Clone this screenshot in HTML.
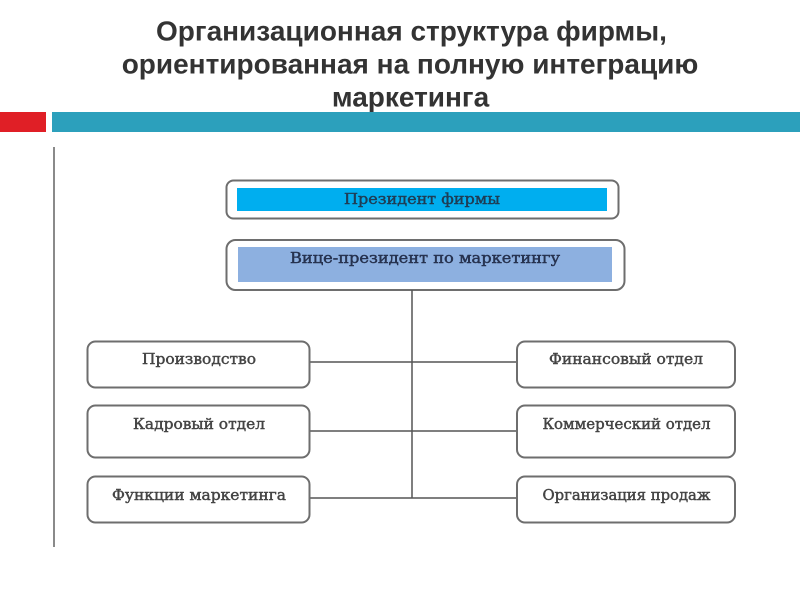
<!DOCTYPE html>
<html lang="ru">
<head>
<meta charset="utf-8">
<style>
html,body{margin:0;padding:0;background:#fff;}
svg{display:block;}
.t{font-family:"Liberation Sans",sans-serif;font-weight:bold;font-size:28px;fill:#333;text-anchor:middle;}
.s{font-family:"DejaVu Serif","Liberation Serif",serif;font-size:14.5px;fill:#444;font-weight:normal;stroke:#444;stroke-width:.45px;}
.b{fill:#fff;stroke:#6e6e6e;stroke-width:2;}
.l{stroke:#555;stroke-width:1.5;fill:none;}
</style>
</head>
<body>
<svg width="800" height="600" viewBox="0 0 800 600" xmlns="http://www.w3.org/2000/svg">
<text class="t" x="411.500" y="40.500">Организационная структура фирмы,</text>
<text class="t" x="410" y="73.500">ориентированная на полную интеграцию</text>
<text class="t" x="410.500" y="106.500">маркетинга</text>
<rect x="0" y="112" width="46" height="20" fill="#e01f26"/>
<rect x="52" y="112" width="748" height="20" fill="#2ca0bc"/>
<rect x="53" y="147" width="2" height="400" fill="#8a8a8a"/>

<rect class="b" x="226.500" y="180.500" width="392" height="38" rx="7"/>
<rect x="237" y="188" width="370" height="23" fill="#00aeef"/>
<text class="s" x="344" y="204" textLength="156" lengthAdjust="spacingAndGlyphs" style="fill:#1f3d55;stroke:#1f3d55">Президент фирмы</text>

<rect class="b" x="226.500" y="240" width="398" height="50" rx="9"/>
<rect x="238" y="247" width="374" height="35" fill="#8db0e0"/>
<text class="s" x="290" y="263" textLength="270" lengthAdjust="spacingAndGlyphs" style="fill:#26324f;stroke:#26324f">Вице-президент по маркетингу</text>

<path class="l" d="M412 290V498M310 362H517M310 431H517M310 498H517"/>

<rect class="b" x="87.500" y="341.500" width="222" height="46" rx="8"/>
<rect class="b" x="87.500" y="405.500" width="222" height="52" rx="8"/>
<rect class="b" x="87.500" y="476.500" width="222" height="46" rx="8"/>
<rect class="b" x="517" y="341.500" width="218" height="46" rx="8"/>
<rect class="b" x="517" y="405.500" width="218" height="52" rx="8"/>
<rect class="b" x="517" y="476.500" width="218" height="46" rx="8"/>

<text class="s" x="142" y="364" textLength="114" lengthAdjust="spacingAndGlyphs">Производство</text>
<text class="s" x="133" y="429" textLength="132" lengthAdjust="spacingAndGlyphs">Кадровый отдел</text>
<text class="s" x="112" y="500" textLength="174" lengthAdjust="spacingAndGlyphs">Функции маркетинга</text>
<text class="s" x="549" y="364" textLength="154" lengthAdjust="spacingAndGlyphs">Финансовый отдел</text>
<text class="s" x="542.500" y="429" textLength="168" lengthAdjust="spacingAndGlyphs">Коммерческий отдел</text>
<text class="s" x="542.500" y="500" textLength="168" lengthAdjust="spacingAndGlyphs">Организация продаж</text>
</svg>
</body>
</html>
